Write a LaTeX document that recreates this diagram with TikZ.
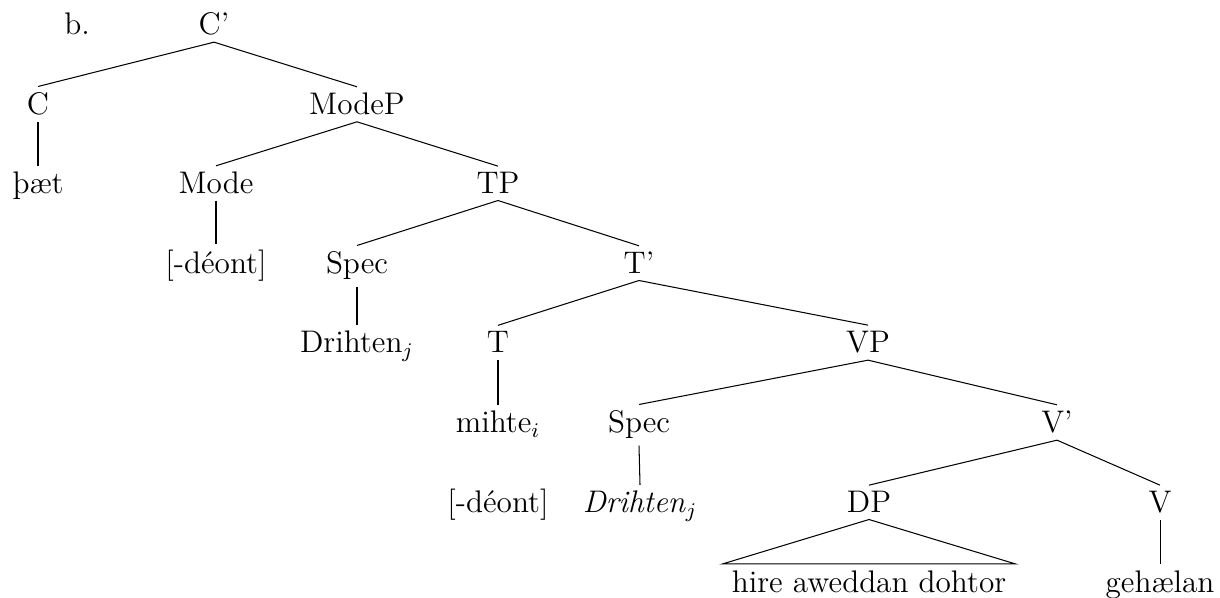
\documentclass[tikz,border=0pt]{standalone}
\usepackage{fontspec}
\setmainfont{lmroman12-regular.otf}[ItalicFont=lmroman12-italic.otf]
\begin{document}
\begin{tikzpicture}[x=0.3842pt,y=-0.3842pt,
  tn/.style={anchor=base, inner xsep=3.2pt, inner ysep=2.3pt, font=\fontsize{12}{14.4}\selectfont},
  br/.style={draw=black, line width=0.4pt}]
\useasboundingbox (0,0) rectangle (1220,598);
% labels
\node[tn] (lab) at (77,35) {b.};
% level 0
\node[tn] (Cbar) at (214,35) {C’};
% level 1
\node[tn] (C) at (38,115) {C};
\node[tn] (ModeP) at (357,115) {ModeP};
% level 2
\node[tn] (baet) at (38,194) {þæt};
\node[tn] (Mode) at (216,194) {Mode};
\node[tn] (TP) at (498,194) {TP};
% level 3
\node[tn] (deont1) at (216,274) {[-déont]};
\node[tn] (Spec1) at (357,274) {Spec};
\node[tn] (Tbar) at (639,274) {T’};
% level 4
\node[tn] (Dr1) at (357,353) {Drihten$_j$};
\node[tn] (T) at (498,353) {T};
\node[tn] (VP) at (868,353) {VP};
% level 5
\node[tn] (mihte) at (498,433) {mihte$_i$};
\node[tn] (Spec2) at (639,433) {Spec};
\node[tn] (Vbar) at (1057,433) {V’};
% level 6
\node[tn] (deont2) at (498,513) {[-déont]};
\node[tn] (Dr2) at (640,513) {\textit{Drihten}$_j$};
\node[tn] (DP) at (869,513) {DP};
\node[tn] (V) at (1160,513) {V};
% level 7
\node[tn] (hire) at (869,592) {hire aweddan dohtor};
\node[tn] (geh) at (1160,592) {gehælan};
% edges
\draw[br] (Cbar.south) -- (C.north);
\draw[br] (Cbar.south) -- (ModeP.north);
\draw[br] (C.south) -- (baet.north);
\draw[br] (ModeP.south) -- (Mode.north);
\draw[br] (ModeP.south) -- (TP.north);
\draw[br] (Mode.south) -- (deont1.north);
\draw[br] (TP.south) -- (Spec1.north);
\draw[br] (TP.south) -- (Tbar.north);
\draw[br] (Spec1.south) -- (Dr1.north);
\draw[br] (Tbar.south) -- (T.north);
\draw[br] (Tbar.south) -- (VP.north);
\draw[br] (T.south) -- (mihte.north);
\draw[br] (VP.south) -- (Spec2.north);
\draw[br] (VP.south) -- (Vbar.north);
\draw[br] (Spec2.south) -- (Dr2.north);
\draw[br] (Vbar.south) -- (DP.north);
\draw[br] (Vbar.south) -- (V.north);
\draw[br] (V.south) -- (geh.north);
\draw[br] (DP.south) -- (hire.north west) -- (hire.north east) -- cycle;
\end{tikzpicture}
\end{document}
